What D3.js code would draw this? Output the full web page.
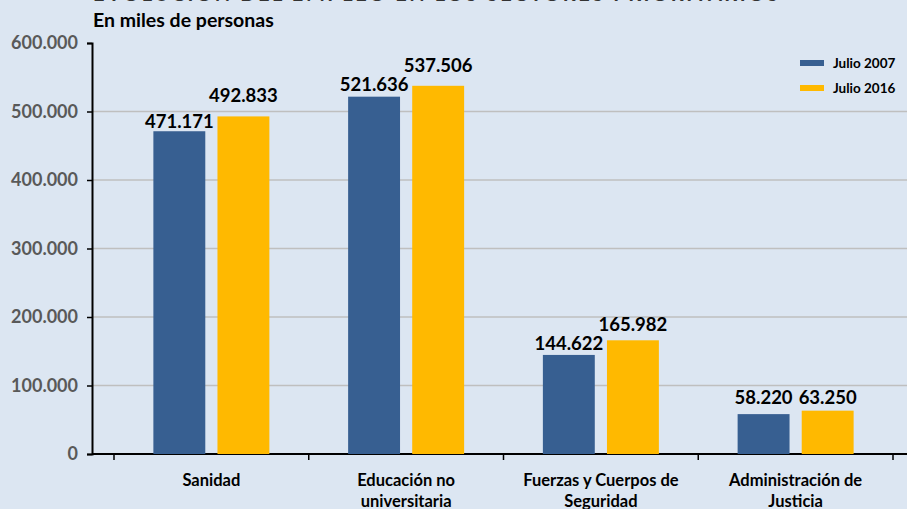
<!DOCTYPE html>
<html>
<head>
<meta charset="utf-8">
<script src="https://cdn.jsdelivr.net/npm/d3@7"></script>
<style>
  body { margin: 0; background: #dce6f2; }
  svg { display: block; font-family: Lato, "Open Sans", sans-serif; }
</style>
</head>
<body>
<div id="chart"></div>
<script>
var categories = [["Sanidad"], ["Educación no", "universitaria"], ["Fuerzas y Cuerpos de", "Seguridad"], ["Administración de", "Justicia"]];
var seriesNames = ["Julio 2007", "Julio 2016"];
var julio2007 = [471171, 521636, 144622, 58220];
var julio2016 = [492833, 537506, 165982, 63250];
var yTicks = [0, 100000, 200000, 300000, 400000, 500000, 600000];
var colors = ["#375f91", "#ffb900"];
// extra lift for each value label, per series
var lift = [[3, 6, 5, 10], [14, 14, 9, 7]];

var width = 907, height = 509;
var margin = {top: 43, left: 92, bottom: 55};

var svg = d3.select("#chart").append("svg")
    .attr("width", width)
    .attr("height", height);

svg.append("rect").attr("width", width).attr("height", height).attr("fill", "#dce6f2");

var fmt = function(v) { return d3.format(",")(v).replace(/,/g, "."); };

var y = d3.scaleLinear().domain([0, 600000]).range([height - margin.bottom, margin.top]);
var x = d3.scaleBand().domain(d3.range(categories.length)).range([114, 893]);
var xs = d3.scaleBand().domain([0, 1]).range([-58, 58]).paddingInner(0.19);

// title (cut at top)
svg.append("text")
   .attr("x", 93).attr("y", 1)
   .attr("textLength", 685)
   .text("EVOLUCIÓN DEL EMPLEO EN LOS SECTORES PRIORITARIOS")
   .style("font-size", "20px").style("font-weight", "bold").style("fill", "#333");

svg.append("text")
   .attr("x", 93).attr("y", 27)
   .text("En miles de personas")
   .style("font-size", "19.5px").style("font-weight", "bold").style("fill", "#000");

// gridlines
svg.append("g").selectAll("line")
   .data(yTicks.filter(function(d) { return d > 0 && d < 600000; }))
   .enter().append("line")
   .attr("x1", margin.left).attr("x2", width)
   .attr("y1", function(d) { return y(d); }).attr("y2", function(d) { return y(d); })
   .attr("stroke", "#bfbfbf").attr("stroke-width", 1.5);

// y axis
var yAxis = svg.append("g")
   .attr("transform", "translate(" + margin.left + ",0)")
   .call(d3.axisLeft(y).tickValues(yTicks).tickFormat(fmt).tickSizeOuter(0).tickSize(5).tickPadding(9));
yAxis.select(".domain").attr("stroke", "#000").attr("stroke-width", 2);
yAxis.selectAll(".tick line").attr("stroke", "#000").attr("stroke-width", 1.5);
yAxis.selectAll(".tick text")
   .style("font-size", "18px").style("font-weight", "bold").style("fill", "#595959")
   .style("font-family", "Lato, sans-serif");

// x axis line and ticks
svg.append("line")
   .attr("x1", margin.left).attr("x2", width)
   .attr("y1", y(0)).attr("y2", y(0))
   .attr("stroke", "#000").attr("stroke-width", 2);
var bounds = x.domain().map(function(i) { return x(i); }).concat([x(categories.length - 1) + x.bandwidth()]);
svg.append("g").selectAll("line").data(bounds).enter().append("line")
   .attr("x1", function(d) { return d; }).attr("x2", function(d) { return d; })
   .attr("y1", y(0)).attr("y2", y(0) + 6)
   .attr("stroke", "#000").attr("stroke-width", 1.5);

// bars
var series = [julio2007, julio2016];
series.forEach(function(vals, s) {
  var g = svg.append("g");
  g.selectAll("rect").data(vals).enter().append("rect")
   .attr("x", function(d, i) { return x(i) + x.bandwidth() / 2 + xs(s); })
   .attr("width", xs.bandwidth())
   .attr("y", function(d) { return y(d); })
   .attr("height", function(d) { return y(0) - y(d); })
   .attr("fill", colors[s]);
  g.selectAll("text").data(vals).enter().append("text")
   .attr("x", function(d, i) { return x(i) + x.bandwidth() / 2 + xs(s) + xs.bandwidth() / 2; })
   .attr("y", function(d, i) { return y(d) - lift[s][i]; })
   .attr("text-anchor", "middle")
   .text(fmt)
   .style("font-size", "18.5px").style("font-weight", "bold").style("fill", "#000");
});

// category labels
categories.forEach(function(lines, i) {
  var t = svg.append("text")
     .attr("text-anchor", "middle")
     .style("font-size", "16.5px").style("font-weight", "bold").style("fill", "#000");
  lines.forEach(function(l, k) {
    t.append("tspan")
     .attr("x", x(i) + x.bandwidth() / 2)
     .attr("y", 486 + k * 21)
     .text(l);
  });
});

// legend
var legend = svg.append("g").selectAll("g").data(seriesNames).enter().append("g")
   .attr("transform", function(d, i) { return "translate(800," + (63 + i * 25) + ")"; });
legend.append("rect").attr("x", 0).attr("y", -3).attr("width", 24).attr("height", 6)
   .attr("fill", function(d, i) { return colors[i]; });
legend.append("text").attr("x", 33).attr("y", 5)
   .text(function(d) { return d; })
   .style("font-size", "13.5px").style("font-weight", "bold").style("fill", "#000");
</script>
</body>
</html>
